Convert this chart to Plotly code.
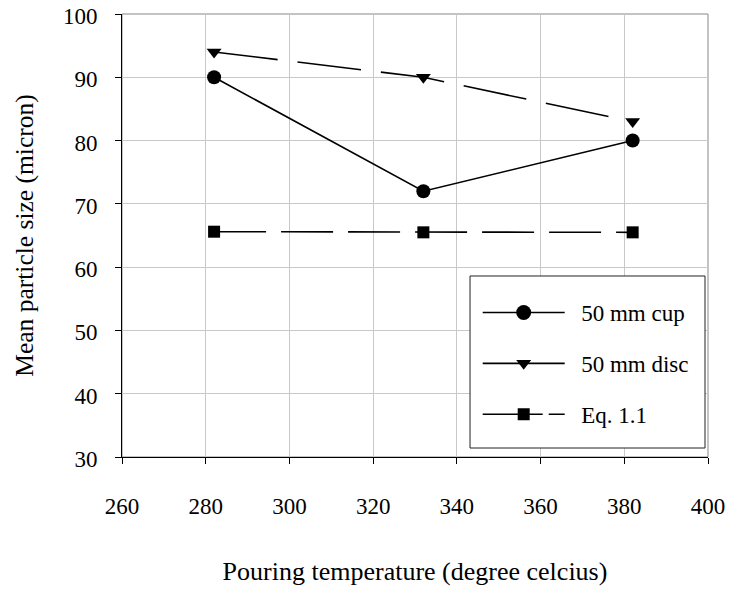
import plotly.graph_objects as go

temps = [282, 332, 382]
cup = [90, 72, 80]
disc = [94, 90, 83]
eq11 = [65.6, 65.5, 65.5]

x_ticks = [260, 280, 300, 320, 340, 360, 380, 400]
y_ticks = [30, 40, 50, 60, 70, 80, 90, 100]

names = ["50 mm cup", "50 mm disc", "Eq. 1.1"]

FONT = "Liberation Serif"
PAD = "\u00a0\u00a0"

cup_line = dict(color="black", width=1.6)
disc_line = dict(color="black", width=1.6, dash="64px,20px")
eq_line = dict(color="black", width=1.6, dash="52px,15px")
cup_marker = dict(symbol="circle", size=14, color="black")
disc_marker = dict(symbol="triangle-down", size=13, color="black")
eq_marker = dict(symbol="square", size=12, color="black")

fig = go.Figure()
fig.add_trace(go.Scatter(x=temps, y=cup, name=names[0], mode="lines+markers",
                         line=cup_line, marker=cup_marker, showlegend=False))
fig.add_trace(go.Scatter(x=temps, y=disc, name=names[1], mode="lines+markers",
                         line=disc_line, marker=disc_marker, showlegend=False))
fig.add_trace(go.Scatter(x=temps, y=eq11, name=names[2], mode="lines+markers",
                         line=eq_line, marker=eq_marker, showlegend=False))
# legend entries
fig.add_trace(go.Scatter(x=[None], y=[None], name=PAD + names[0], mode="lines+markers",
                         line=cup_line, marker=dict(cup_marker, size=15), legendgroup="a"))
fig.add_trace(go.Scatter(x=[None], y=[None], name=PAD + names[1], mode="lines+markers",
                         line=dict(color="black", width=1.6), marker=disc_marker,
                         legendgroup="b"))
fig.add_trace(go.Scatter(x=[None], y=[None], name=PAD + names[2], mode="lines+markers",
                         line=dict(color="black", width=1.6, dash="60px,6px"),
                         marker=eq_marker, legendgroup="c"))

fig.update_layout(
    width=729, height=590,
    margin=dict(l=122, r=21, t=14, b=133),
    paper_bgcolor="white", plot_bgcolor="white",
    font=dict(family=FONT, size=23, color="black"),
    showlegend=True,
    legend=dict(x=0.607, y=0.3747, xanchor="left", yanchor="top",
                borderwidth=0, bgcolor="rgba(0,0,0,0)",
                font=dict(family=FONT, size=23, color="black"),
                itemwidth=82, tracegroupgap=18),
    xaxis=dict(range=[260, 400], tickvals=x_ticks, ticks="outside", ticklen=6,
               tickcolor="black", showline=True, linecolor="black", linewidth=1,
               showgrid=True, gridcolor="#c8c8c8", gridwidth=1, zeroline=False,
               ticklabelstandoff=22, automargin=False, ticklabeloverflow="allow",
               tickfont=dict(family=FONT, size=23),
               title=dict(text="Pouring temperature (degree celcius)", standoff=44,
                          font=dict(family=FONT, size=26))),
    yaxis=dict(range=[30, 100], tickvals=y_ticks, ticks="outside", ticklen=6,
               tickcolor="black", showline=True, linecolor="black", linewidth=1,
               showgrid=True, gridcolor="#c8c8c8", gridwidth=1, zeroline=False,
               ticklabelstandoff=13, ticklabelshift=2, automargin=False,
               ticklabeloverflow="allow",
               tickfont=dict(family=FONT, size=23),
               title=dict(text="Mean particle size (micron)", standoff=21,
                          font=dict(family=FONT, size=25.5))),
)
fig.add_shape(type="rect", xref="paper", yref="paper", x0=0, y0=0, x1=1, y1=1,
              line=dict(color="#888888", width=1), layer="below")
# legend frame
fig.add_shape(type="rect", xref="paper", yref="paper", x0=0.5939, y0=0.0203,
              x1=0.9949, y1=0.4086, line=dict(color="#222222", width=1),
              fillcolor="white", layer="above")

fig.write_html("out.html", config={"displayModeBar": False},
               post_script="document.body.style.margin='0';document.body.style.overflow='hidden';")
